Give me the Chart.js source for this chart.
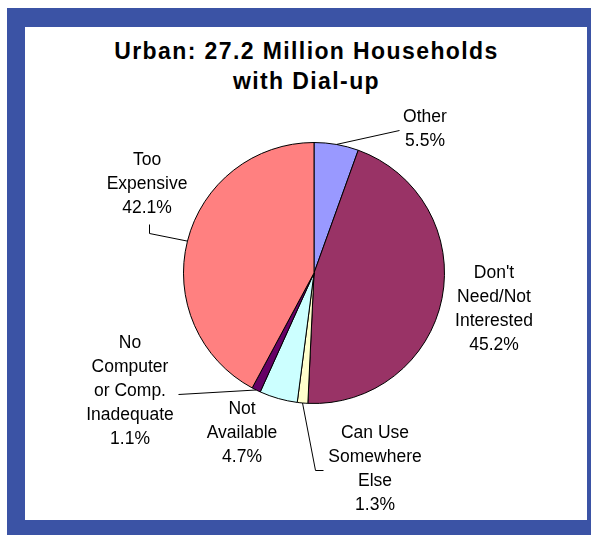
<!DOCTYPE html>
<html>
<head>
<meta charset="utf-8">
<script src="https://cdn.jsdelivr.net/npm/chart.js@4/dist/chart.umd.min.js"></script>
<style>
  html, body { margin: 0; padding: 0; background: #fff; }
  #page { position: relative; width: 591px; height: 535px; overflow: hidden; }
  #frame { position: absolute; left: 7px; top: 8px; width: 584px; height: 527px; background: #3b53a5; }
  #inner { position: absolute; left: 25px; top: 27px; width: 562px; height: 493px; background: #fff; }
  #title {
    position: absolute; left: 0; top: 36px; width: 613px; text-align: center;
    font: bold 23px "Liberation Sans", Arial, sans-serif; letter-spacing: 1.4px;
    line-height: 30px; color: #000;
  }
  #pie { position: absolute; left: 0; top: 0; }
</style>
</head>
<body>
<div id="page">
  <div id="frame"></div>
  <div id="inner"></div>
  <div id="title">Urban: 27.2 Million Households<br>with Dial-up</div>
  <canvas id="pie" width="591" height="535"></canvas>
</div>
<script>
// reasons for staying on dial-up, clockwise from 12 o'clock
var categories = [
    ["Other"],
    ["Don't", "Need/Not", "Interested"],
    ["Can Use", "Somewhere", "Else"],
    ["Not", "Available"],
    ["No", "Computer", "or Comp.", "Inadequate"],
    ["Too", "Expensive"]
];
var shares = [5.5, 45.2, 1.3, 4.7, 1.1, 42.1];
var sliceColors = ["#9999ff", "#993366", "#ffffcc", "#ccffff", "#660066", "#ff8080"];

// where each label sits, relative to the pie centre
var labelOffsets = [[111, -156], [180, 0], [61, 160], [-72, 136], [-184, 70], [-167, -113]];
// extra bend points of the leader lines (start is the slice edge)
var leaderBends = [
    [[85, -143]],
    null,
    [[1, 197], [9, 197]],
    null,
    [[-136, 121]],
    [[-165, -40], [-165, -49]]
];

var sliceLabels = {
    id: "sliceLabels",
    afterDatasetsDraw: function(chart) {
        var ctx = chart.ctx;
        var arcs = chart.getDatasetMeta(0).data;
        ctx.save();
        ctx.strokeStyle = "#000";
        ctx.lineWidth = 1;
        ctx.fillStyle = "#000";
        ctx.font = "17.5px 'Liberation Sans', Arial, sans-serif";
        ctx.textAlign = "center";
        ctx.textBaseline = "middle";
        arcs.forEach(function(arc, i) {
            var p = arc.getProps(["x", "y", "startAngle", "endAngle", "outerRadius"], true);
            var mid = (p.startAngle + p.endAngle) / 2;
            if (leaderBends[i]) {
                ctx.beginPath();
                ctx.moveTo(p.x + Math.cos(mid) * p.outerRadius, p.y + Math.sin(mid) * p.outerRadius);
                leaderBends[i].forEach(function(b) {
                    ctx.lineTo(p.x + b[0] + 0.5, p.y + b[1] + 0.5);
                });
                ctx.stroke();
            }
            var lines = categories[i].concat([shares[i].toFixed(1) + "%"]);
            var lx = p.x + labelOffsets[i][0];
            var ly = p.y + labelOffsets[i][1];
            lines.forEach(function(t, k) {
                ctx.fillText(t, lx, ly + k * 24);
            });
        });
        ctx.restore();
    }
};

new Chart(document.getElementById("pie"), {
    type: "pie",
    data: {
        labels: categories.map(function(c) { return c.join(" "); }),
        datasets: [{
            data: shares,
            backgroundColor: sliceColors,
            borderColor: "#000",
            borderWidth: 1
        }]
    },
    options: {
        responsive: false,
        animation: false,
        layout: { padding: { left: 183, right: 146, top: 142, bottom: 131 } },
        plugins: {
            legend: { display: false },
            tooltip: { enabled: false }
        }
    },
    plugins: [sliceLabels]
});
</script>
</body>
</html>
